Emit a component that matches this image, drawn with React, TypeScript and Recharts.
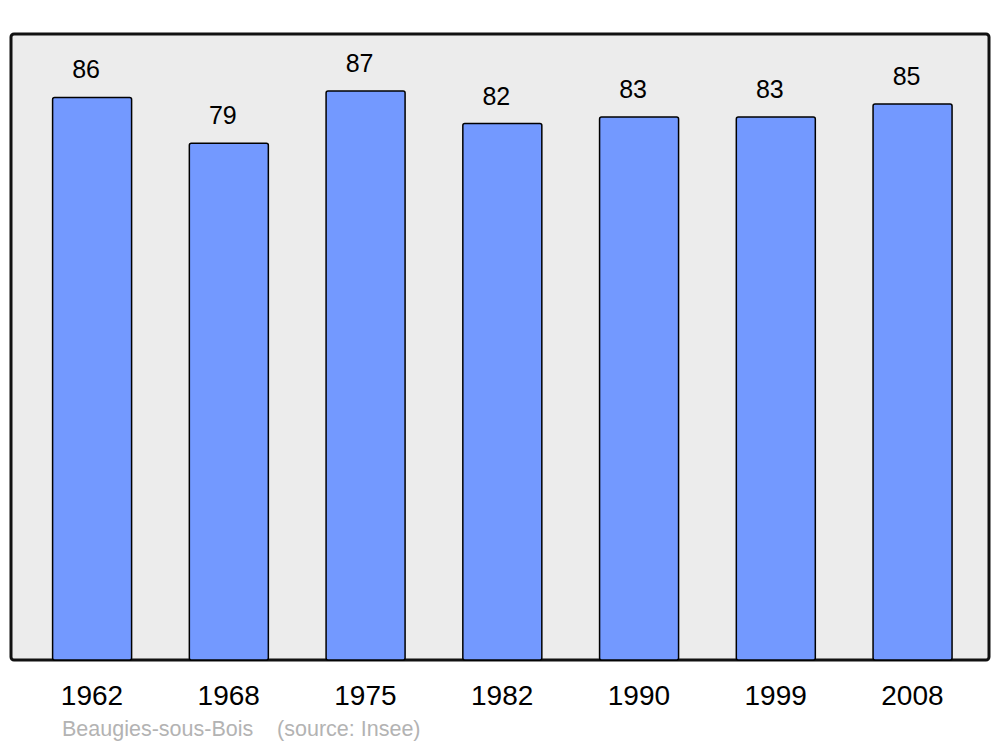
import { BarChart, Bar, XAxis, YAxis, ReferenceArea, LabelList } from "recharts";

const years = ["1962", "1968", "1975", "1982", "1990", "1999", "2008"];
const population = [86, 79, 87, 82, 83, 83, 85];
const yMax = 95.7;

const chartData = years.map((year, i) => ({ year, population: population[i] }));
const lastIndex = years.length - 1;

const ValueLabel = (props: any) => {
  const { x, y, width, value } = props;
  return (
    <text x={x + width / 2 - 6} y={y - 19} textAnchor="middle" fill="#000" fontSize={25}>
      {value}
    </text>
  );
};

export default function App() {
  return (
    <div style={{ position: "absolute", left: 0, top: 0, width: 1000, height: 747, fontFamily: "'Liberation Sans', Arial, sans-serif" }}>
      <BarChart
        width={1000}
        height={747}
        data={chartData}
        margin={{ top: 34, right: 11, bottom: 47, left: 11 }}
        barSize={79}
      >
        <YAxis hide domain={[0, yMax]} width={0} />
        <XAxis
          dataKey="year"
          height={40}
          axisLine={false}
          tickLine={false}
          tickMargin={19}
          padding={{ left: 12.6, right: 8.2 }}
          tick={{ fill: "#000", fontSize: 28 }}
          interval={0}
        />
        {/* index axis spanning the whole plot, only used for the frame */}
        <XAxis xAxisId="frame" type="number" domain={[0, lastIndex]} allowDataOverflow hide />
        <ReferenceArea
          xAxisId="frame"
          x1={0}
          x2={lastIndex}
          y1={0}
          y2={yMax}
          fill="#ececec"
          fillOpacity={1}
          stroke="#111"
          strokeWidth={3}
          radius={3}
          ifOverflow="visible"
        />
        <Bar
          dataKey="population"
          fill="#7399ff"
          stroke="#000"
          strokeWidth={1.5}
          radius={2}
          isAnimationActive={false}
        >
          <LabelList dataKey="population" content={ValueLabel} />
        </Bar>
      </BarChart>
      <div
        style={{
          position: "absolute",
          left: 62,
          top: 717,
          fontSize: 21.5,
          lineHeight: "24px",
          color: "#b3b3b3",
          whiteSpace: "pre",
        }}
      >
        {"Beaugies-sous-Bois    (source: Insee)"}
      </div>
    </div>
  );
}
